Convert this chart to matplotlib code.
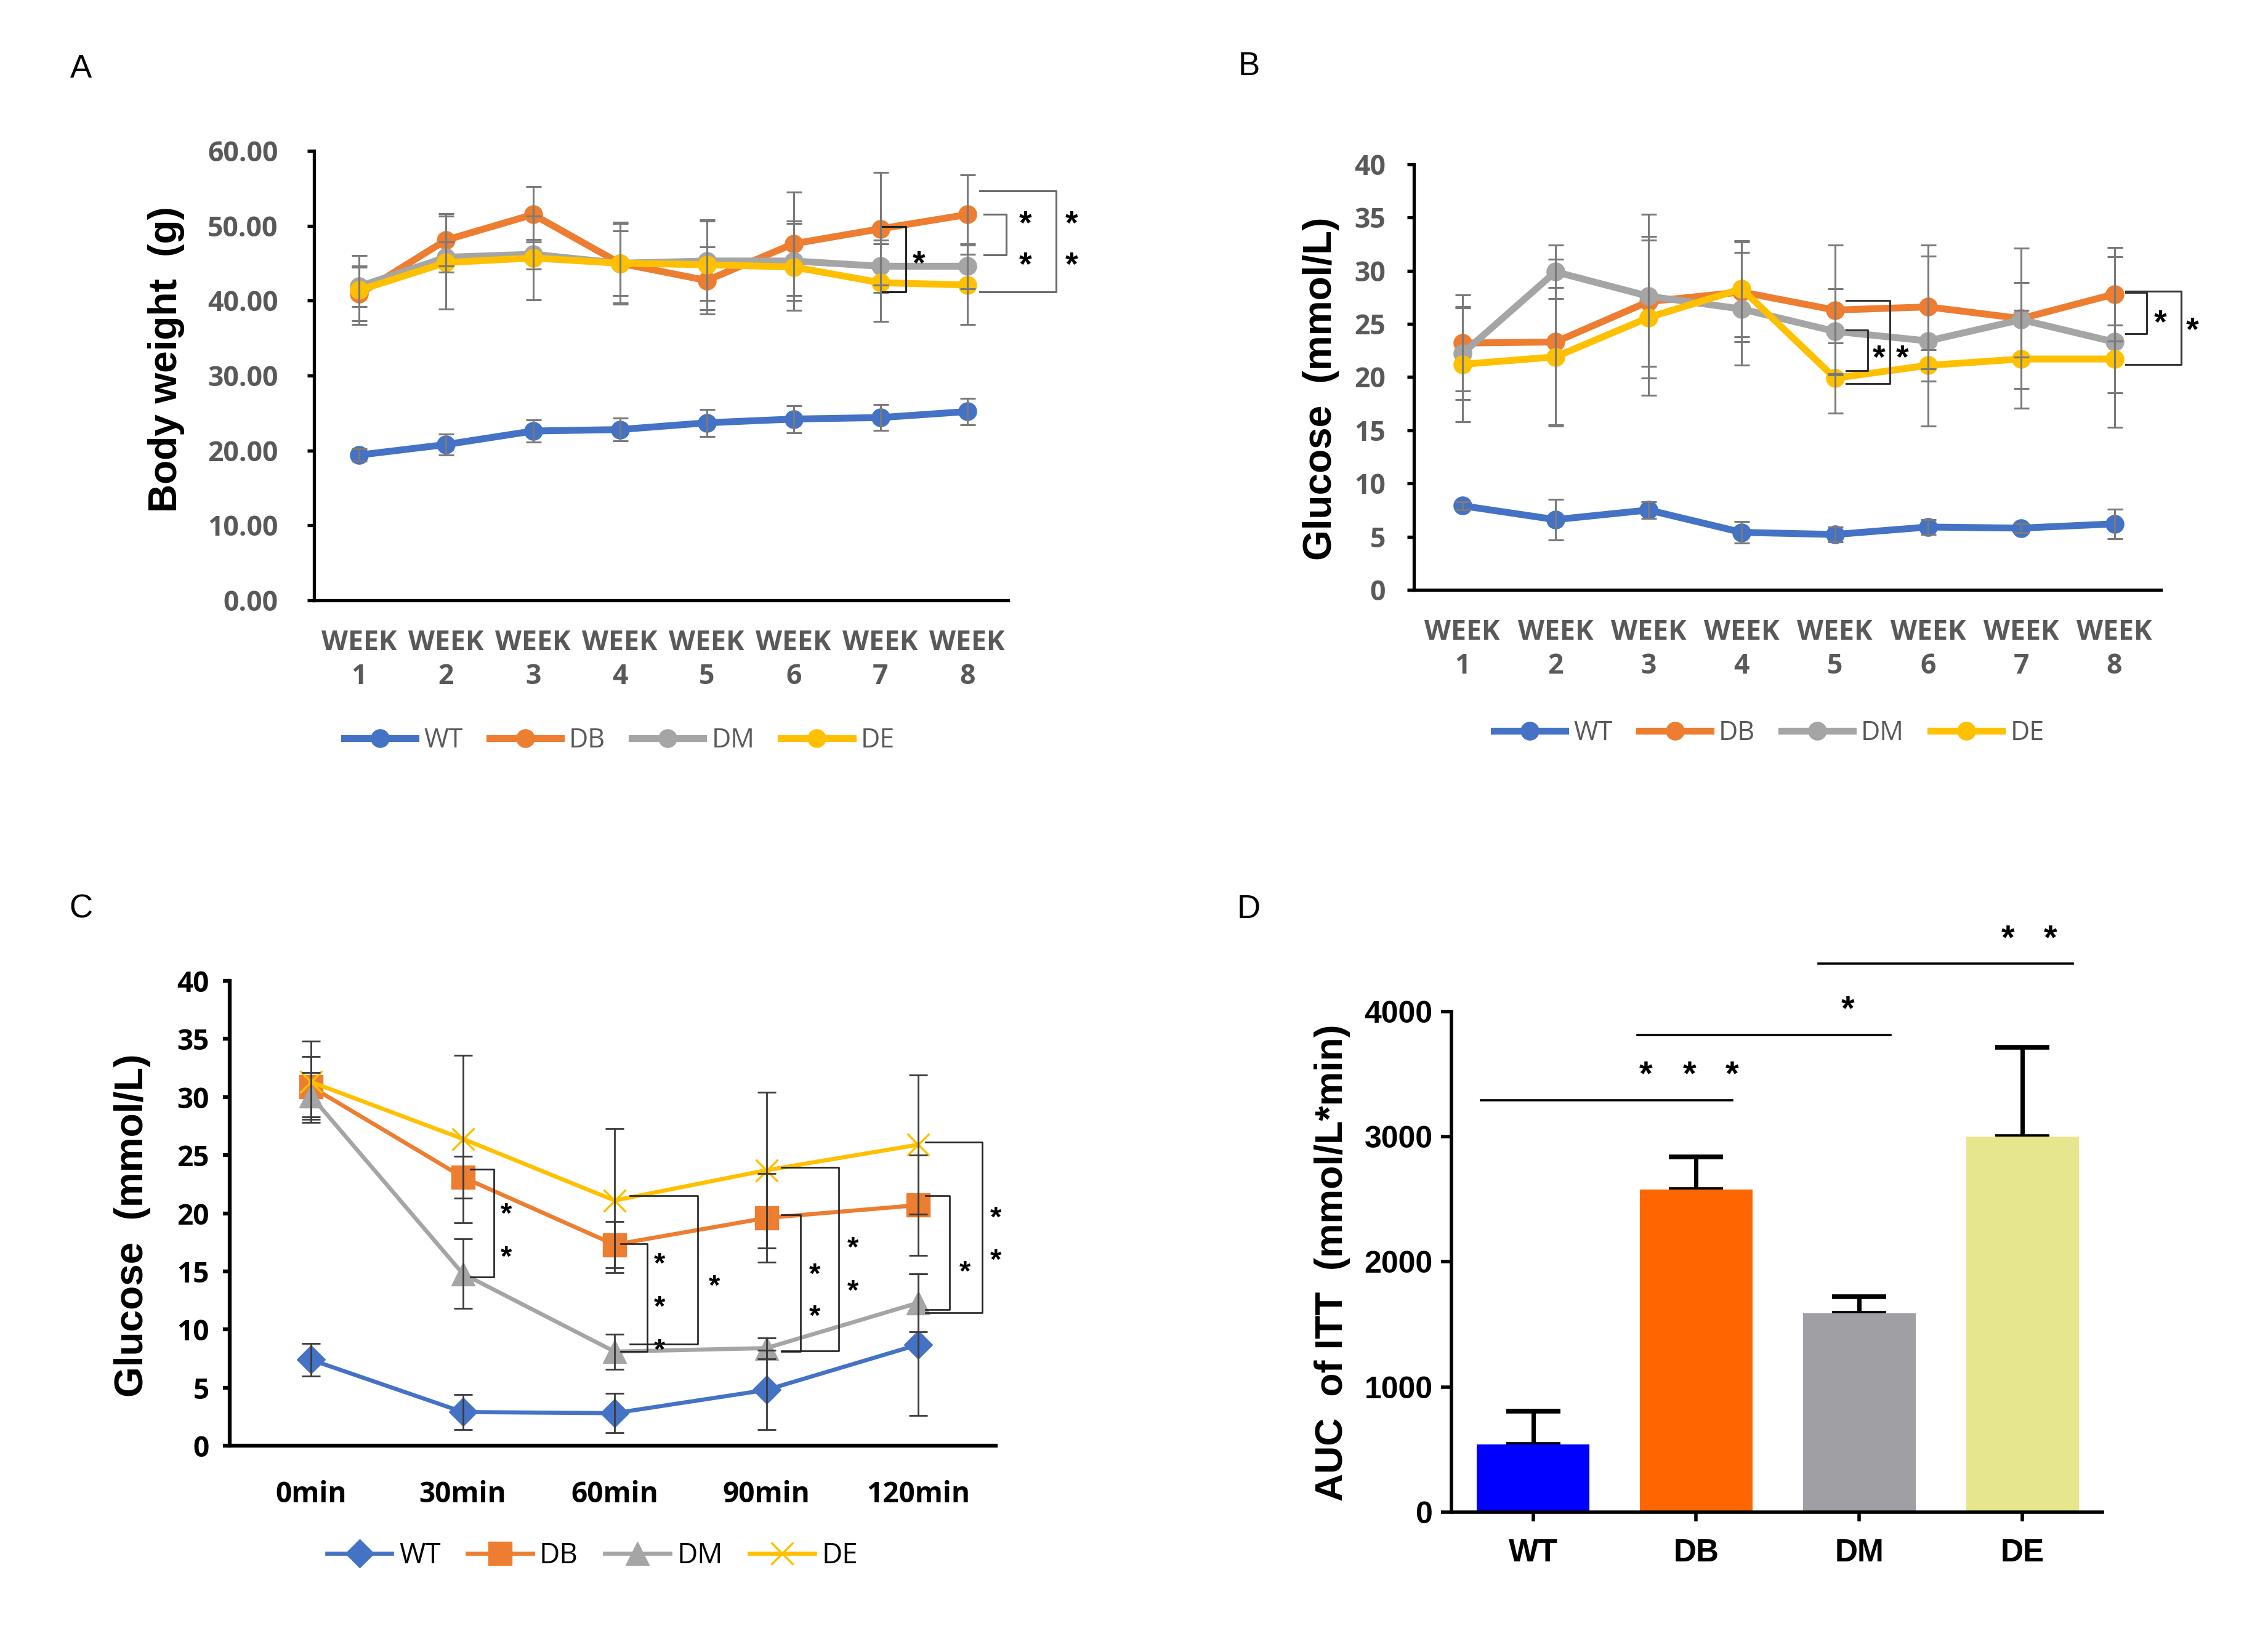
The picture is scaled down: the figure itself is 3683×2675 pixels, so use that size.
import matplotlib
matplotlib.use("Agg")
import matplotlib.pyplot as plt
from matplotlib import font_manager as fm
import numpy as np

names = {f.name for f in fm.fontManager.ttflist}
CAL = "Open Sans" if "Open Sans" in names else "DejaVu Sans"
ARIAL = "Liberation Sans" if "Liberation Sans" in names else "DejaVu Sans"

# ---------------- data ----------------
groups = ["WT", "DB", "DM", "DE"]
colors = ["#4472C4", "#ED7D31", "#A5A5A5", "#FFC000"]

week_labels = ["WEEK\n1", "WEEK\n2", "WEEK\n3", "WEEK\n4", "WEEK\n5", "WEEK\n6", "WEEK\n7", "WEEK\n8"]

bw_WT = [19.4, 20.8, 22.6, 22.8, 23.7, 24.2, 24.4, 25.2]
bw_WT_err = [0.8, 1.4, 1.5, 1.5, 1.8, 1.8, 1.7, 1.8]
bw_DB = [40.9, 48.1, 51.5, 45.0, 42.7, 47.6, 49.6, 51.5]
bw_DB_err = [3.6, 3.5, 3.7, 5.3, 4.5, 6.9, 7.5, 5.3]
bw_DM = [41.9, 45.8, 46.2, 45.0, 45.3, 45.3, 44.6, 44.6]
bw_DM_err = [2.7, 2.0, 2.0, 4.3, 5.3, 5.3, 3.5, 3.0]
bw_DE = [41.4, 45.1, 45.7, 45.0, 44.8, 44.5, 42.4, 42.1]
bw_DE_err = [4.6, 6.2, 5.6, 5.5, 6.0, 5.8, 5.2, 5.3]

gl_WT = [7.9, 6.6, 7.5, 5.4, 5.2, 5.9, 5.8, 6.2]
gl_WT_err = [0.4, 1.9, 0.8, 1.0, 0.7, 0.7, 0.4, 1.4]
gl_DB = [23.2, 23.3, 27.1, 28.0, 26.3, 26.6, 25.5, 27.8]
gl_DB_err = [4.5, 7.8, 6.1, 4.7, 6.1, 5.8, 6.6, 4.4]
gl_DM = [22.2, 29.9, 27.6, 26.4, 24.3, 23.4, 25.4, 23.3]
gl_DM_err = [4.3, 2.5, 7.7, 5.3, 4.0, 8.0, 3.5, 8.0]
gl_DE = [21.2, 21.9, 25.6, 28.3, 19.9, 21.1, 21.7, 21.7]
gl_DE_err = [5.4, 6.5, 7.3, 4.5, 3.3, 1.5, 4.6, 3.2]

time_labels = ["0min", "30min", "60min", "90min", "120min"]
itt_WT = [7.4, 2.9, 2.8, 4.8, 8.7]
itt_WT_err = [1.4, 1.5, 1.7, 3.4, 6.1]
itt_DB = [30.9, 23.1, 17.3, 19.6, 20.7]
itt_DB_err = [2.6, 1.8, 2.0, 3.8, 4.3]
itt_DM = [30.1, 14.8, 8.1, 8.4, 12.3]
itt_DM_err = [2.0, 3.0, 1.5, 0.9, 2.5]
itt_DE = [31.3, 26.4, 21.1, 23.7, 25.9]
itt_DE_err = [3.5, 7.2, 6.2, 6.7, 6.0]

auc = [540, 2580, 1590, 3000]
auc_err = [265, 260, 130, 715]
bar_colors = ["#0000FF", "#FF6600", "#A0A0A4", "#E6E68F"]

# significance annotations: (x_arm_start, x_vertical, y_top, y_bottom)
sigA_brackets = [(7.02, 7.29, 49.9, 41.2, "#222222"), (8.19, 8.45, 51.5, 46.1, "#6b6b6b"),
                 (8.14, 9.02, 54.7, 41.2, "#6b6b6b")]
sigA_stars = [(7.44, 46.2), (8.67, 51.5), (8.67, 46.0), (9.20, 51.5), (9.20, 46.0)]
sigB_brackets = [(5.12, 5.355, 24.4, 20.6), (5.12, 5.59, 27.2, 19.4),
                 (8.12, 8.35, 27.95, 24.1), (8.12, 8.72, 28.05, 21.2)]
sigB_stars = [(5.47, 22.65), (5.72, 22.65), (8.49, 26.0), (8.84, 25.3)]
sigC_brackets = [(1.05, 1.205, 23.8, 14.5), (2.04, 2.214, 17.4, 8.1), (2.10, 2.548, 21.5, 8.76),
                 (3.10, 3.224, 19.87, 8.1), (3.10, 3.476, 23.96, 8.18),
                 (4.05, 4.205, 21.5, 11.7), (4.05, 4.42, 26.1, 11.46)]
sigC_stars = [(1.286, 20.7), (1.286, 17.0), (2.295, 16.4), (2.295, 12.7), (2.295, 9.0),
              (2.657, 14.5), (3.32, 15.5), (3.32, 11.9), (3.57, 17.8), (3.57, 14.1),
              (4.31, 15.7), (4.51, 20.4), (4.51, 16.7)]
sigD_lines = [(-0.32, 1.22, 3292), (0.64, 2.19, 3812), (1.75, 3.31, 4383)]
sigD_stars = [(0.69, 3580), (0.96, 3580), (1.22, 3580), (1.93, 4104), (2.91, 4667), (3.17, 4667)]

GRAY_TXT = "#595959"

fig = plt.figure(figsize=(36.83, 26.75), dpi=100)


def star(ax, x, y, fs=30, color="black"):
    ax.annotate("*", (x, y), xytext=(0, -0.6 * fs), textcoords="offset points",
                ha="center", va="baseline", fontsize=fs, family=ARIAL, fontweight="bold",
                color=color, annotation_clip=False)


def style_line_axes(ax, tick_color, tick_font, tick_size, ypad, xpad, spine_lw=3.8):
    for s in ["top", "right"]:
        ax.spines[s].set_visible(False)
    for s in ["left", "bottom"]:
        ax.spines[s].set_linewidth(spine_lw)
        ax.spines[s].set_color("black")
    ax.tick_params(axis="y", direction="out", length=8, width=spine_lw, pad=ypad,
                   labelsize=tick_size, labelcolor=tick_color)
    ax.tick_params(axis="x", length=0, pad=xpad, labelsize=tick_size, labelcolor=tick_color)
    for lab in ax.get_xticklabels() + ax.get_yticklabels():
        lab.set_family(tick_font)
        lab.set_fontweight("bold")


# ---------------- Panel A ----------------
axA = fig.add_axes([0.1385, 0.6355, 0.3060, 0.2729])
xA = np.arange(1, 9)
seriesA = [(bw_WT, bw_WT_err), (bw_DB, bw_DB_err), (bw_DM, bw_DM_err), (bw_DE, bw_DE_err)]
for (v, e), c, g in zip(seriesA, colors, groups):
    axA.errorbar(xA, v, yerr=e, fmt="none", ecolor="#7a7a7a", elinewidth=2.2, capsize=9,
                 capthick=2.2, zorder=3)
    axA.plot(xA, v, "-o", color=c, lw=8, ms=21, label=g, zorder=2)
axA.set_xlim(0.48, 8.47)
axA.set_ylim(0, 60)
axA.set_yticks(np.arange(0, 61, 10))
axA.set_yticklabels([f"{t:.2f}" for t in np.arange(0, 61, 10)])
axA.set_xticks(xA)
axA.set_xticklabels(week_labels, linespacing=1.3)
style_line_axes(axA, GRAY_TXT, CAL, 32, 34, 34)
for xs, xv, yt, yb, col in sigA_brackets:
    axA.plot([xs, xv, xv, xs], [yt, yt, yb, yb], color=col, lw=2.2, clip_on=False, zorder=4)
for x, y in sigA_stars:
    star(axA, x, y, fs=38)
legA = axA.legend(loc="center", bbox_to_anchor=(0.2731, 0.5503), bbox_transform=fig.transFigure,
                  ncol=4, frameon=False, handlelength=2.7, handletextpad=0.3,
                  columnspacing=1.0, prop={"family": CAL, "size": 31})
for t in legA.get_texts():
    t.set_color(GRAY_TXT)

# ---------------- Panel B ----------------
axB = fig.add_axes([0.6234, 0.6419, 0.3294, 0.2583])
seriesB = [(gl_WT, gl_WT_err), (gl_DB, gl_DB_err), (gl_DM, gl_DM_err), (gl_DE, gl_DE_err)]
for (v, e), c, g in zip(seriesB, colors, groups):
    axB.errorbar(xA, v, yerr=e, fmt="none", ecolor="#7a7a7a", elinewidth=2.2, capsize=9,
                 capthick=2.2, zorder=3)
    axB.plot(xA, v, "-o", color=c, lw=8, ms=21, label=g, zorder=2)
axB.set_xlim(0.48, 8.5)
axB.set_ylim(0, 40)
axB.set_yticks(np.arange(0, 41, 5))
axB.set_xticks(xA)
axB.set_xticklabels(week_labels, linespacing=1.3)
style_line_axes(axB, GRAY_TXT, CAL, 32, 25, 34)
for xs, xv, yt, yb in sigB_brackets:
    axB.plot([xs, xv, xv, xs], [yt, yt, yb, yb], color="#333333", lw=2.2, clip_on=False, zorder=4)
for x, y in sigB_stars:
    star(axB, x, y, fs=38)
legB = axB.legend(loc="center", bbox_to_anchor=(0.780, 0.555), bbox_transform=fig.transFigure,
                  ncol=4, frameon=False, handlelength=2.7, handletextpad=0.3,
                  columnspacing=1.0, prop={"family": CAL, "size": 31})
for t in legB.get_texts():
    t.set_color(GRAY_TXT)

# ---------------- Panel C ----------------
axC = fig.add_axes([0.1013, 0.1222, 0.3377, 0.2823])
xC = np.arange(5)
seriesC = [(itt_WT, itt_WT_err), (itt_DB, itt_DB_err), (itt_DM, itt_DM_err), (itt_DE, itt_DE_err)]
markersC = [("D", 23, 1), ("s", 27, 1), ("^", 27, 1), ("x", 26, 2.5)]
for (v, e), c, g, (m, ms, mew) in zip(seriesC, colors, groups, markersC):
    axC.errorbar(xC, v, yerr=e, fmt="none", ecolor="#3a3a3a", elinewidth=2, capsize=11,
                 capthick=2, zorder=3)
    axC.plot(xC, v, "-", marker=m, color=c, lw=4.8, ms=ms, mew=mew, label=g, zorder=2)
axC.set_xlim(-0.535, 4.51)
axC.set_ylim(0, 40)
axC.set_yticks(np.arange(0, 41, 5))
axC.set_xticks(xC)
axC.set_xticklabels(time_labels)
style_line_axes(axC, "black", CAL, 33, 16, 40, spine_lw=4.5)
for xs, xv, yt, yb in sigC_brackets:
    axC.plot([xs, xv, xv, xs], [yt, yt, yb, yb], color="#222222", lw=1.9, clip_on=False, zorder=4)
for x, y in sigC_stars:
    star(axC, x, y, fs=34)
legC = axC.legend(loc="center", bbox_to_anchor=(0.2612, 0.0553), bbox_transform=fig.transFigure,
                  ncol=4, frameon=False, handlelength=2.3, handletextpad=0.25,
                  columnspacing=0.95, prop={"family": CAL, "size": 33})

# ---------------- Panel D ----------------
axD = fig.add_axes([0.640, 0.0819, 0.287, 0.3039])
xD = np.arange(4)
axD.bar(xD, auc, width=0.69, color=bar_colors, zorder=2)
axD.errorbar(xD, auc, yerr=[np.zeros(4), auc_err], fmt="none", ecolor="black", elinewidth=5,
             capsize=32, capthick=5.5, zorder=1)
axD.set_xlim(-0.5, 3.49)
axD.set_ylim(0, 4000)
axD.set_yticks(np.arange(0, 4001, 1000))
axD.set_xticks(xD)
axD.set_xticklabels(groups)
for s in ["top", "right"]:
    axD.spines[s].set_visible(False)
for s in ["left", "bottom"]:
    axD.spines[s].set_linewidth(4)
axD.tick_params(axis="y", direction="out", length=12, width=4, pad=10, labelsize=36)
axD.tick_params(axis="x", direction="out", length=11, width=4, pad=19, labelsize=37)
for lab in axD.get_xticklabels() + axD.get_yticklabels():
    lab.set_family(ARIAL)
    lab.set_fontweight("bold")
for x0, x1, y in sigD_lines:
    axD.plot([x0, x1], [y, y], color="black", lw=2.6, clip_on=False)
for x, y in sigD_stars:
    star(axD, x, y, fs=40)

# ---------------- labels ----------------
fig.text(0.0733, 0.7817, "Body weight  (g)", rotation=90, ha="center", va="center",
         fontsize=46, fontweight="bold", family=ARIAL)
fig.text(0.5824, 0.764, "Glucose  (mmol/L)", rotation=90, ha="center", va="center",
         fontsize=46, fontweight="bold", family=ARIAL)
fig.text(0.0584, 0.256, "Glucose  (mmol/L)", rotation=90, ha="center", va="center",
         fontsize=46, fontweight="bold", family=ARIAL)
fig.text(0.5873, 0.2333, "AUC  of ITT  (mmol/L*min)", rotation=90, ha="center", va="center",
         fontsize=45, fontweight="bold", family=ARIAL)

for lx, ly, s in [(0.0356, 0.958, "A"), (0.5506, 0.9596, "B"), (0.0356, 0.448, "C"), (0.5506, 0.448, "D")]:
    fig.text(lx, ly, s, ha="center", va="center", fontsize=38, family=ARIAL)

fig.savefig("out.png", dpi=100, facecolor="white")
